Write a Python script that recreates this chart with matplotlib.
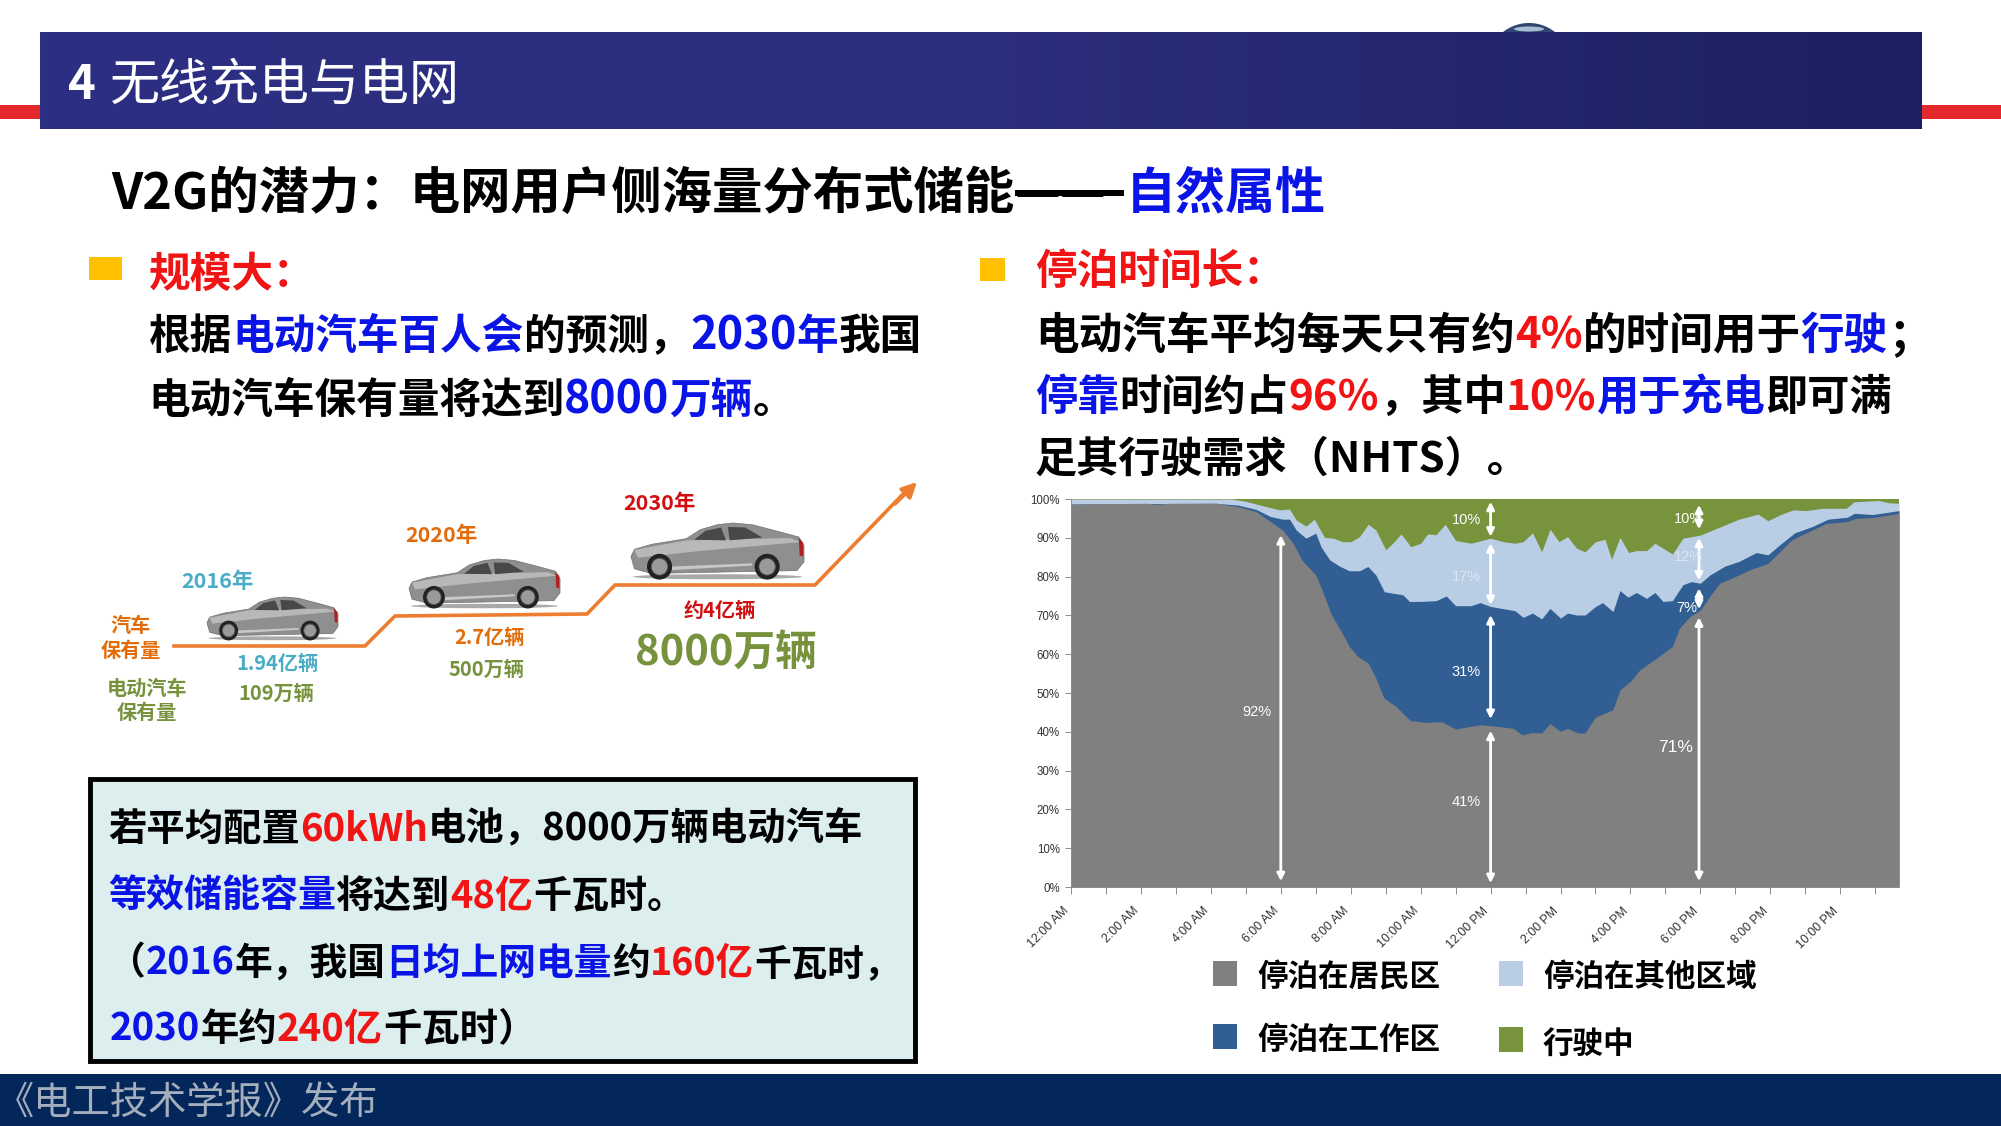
import numpy as np
import matplotlib
matplotlib.use("Agg")
import matplotlib.pyplot as plt
from matplotlib.patches import Polygon, Rectangle, Ellipse, Circle
from matplotlib.transforms import ScaledTranslation

plt.rcParams['font.family'] = ['Noto Sans CJK SC', 'DejaVu Sans']

W, H = 2001, 1126

# top edge of each stacked band (hours, percent)
res_h = [0, 2.2, 2.4, 2.8, 4.15, 4.8, 5.3, 5.7, 6.05, 6.35, 6.6, 7.0, 7.2, 7.45, 7.7, 7.96, 8.2, 8.5, 8.7, 8.95,
         9.3, 9.7, 10.15, 10.6, 11, 11.3, 11.7, 12, 12.65, 12.9, 13.17, 13.46, 13.7, 14, 14.2, 14.5, 14.7, 15,
         15.5, 15.7, 16, 16.27, 16.75, 17.2, 17.4, 17.7, 18, 18.3, 18.55, 18.9, 19.4, 19.93, 20.27, 20.6, 21.1,
         21.6, 22.2, 22.45, 22.9, 23.68]
res_v = [98.7, 98.9, 98.6, 98.9, 98.9, 98.0, 96.7, 94.2, 92, 88.6, 84.3, 80.4, 76.1, 70.1, 66.3, 62, 59.4, 57.7,
         54.2, 48.7, 46.5, 42.9, 42.4, 42.6, 40.7, 41.2, 41.8, 41.6, 40.9, 39.2, 39.8, 39.7, 42.1, 40.1, 40.9,
         39.7, 39.7, 43.8, 45.7, 50.8, 53, 56, 59, 62, 66.7, 69.7, 71.4, 75.3, 78.3, 79.6, 81.7, 83.4, 86.4,
         89.4, 91.6, 93.7, 94.2, 95.0, 95.2, 96.3]

work_h = [0, 4.15, 4.8, 5.3, 5.7, 6.05, 6.25, 6.44, 6.72, 7, 7.15, 7.4, 7.68, 7.96, 8.25, 8.49, 8.72, 8.96, 9.49,
          9.68, 10, 10.44, 10.73, 11, 11.44, 11.7, 12, 12.7, 12.93, 13.2, 13.46, 13.7, 14, 14.2, 14.46, 14.7, 15,
          15.2, 15.5, 15.7, 15.93, 16.17, 16.46, 16.7, 16.93, 17.2, 17.5, 17.74, 18, 18.27, 18.7, 19.1, 19.6,
          19.93, 20.27, 20.7, 21.2, 21.65, 22.2, 22.4, 22.93, 23.68]
work_v = [98.7, 98.9, 98.4, 97.3, 95.5, 94.8, 94.8, 92, 89.9, 91.2, 87.7, 84.3, 82.7, 81.5, 81.5, 82.6, 80.4, 76.1,
          75.3, 73.6, 73.6, 73.8, 75, 72.5, 72.5, 73.3, 72.3, 71.2, 69.5, 70.6, 69.1, 71.8, 69.3, 70.6, 70.1,
          70.1, 72.3, 73.3, 71, 76.4, 74.7, 75.9, 74.4, 75.9, 73.6, 73.8, 77.9, 78.7, 78.3, 80.4, 82.7, 83.9,
          86.2, 85.6, 88.2, 91.3, 92.9, 94.8, 95.3, 96.3, 96.0, 97]

other_h = [0, 4.6, 5.0, 5.6, 5.96, 6.25, 6.44, 6.72, 6.96, 7.25, 7.5, 7.77, 8, 8.25, 8.5, 8.72, 9, 9.2, 9.44, 9.72,
           10, 10.2, 10.44, 10.7, 11, 11.44, 11.7, 12, 12.36, 12.7, 12.93, 13.2, 13.46, 13.7, 13.96, 14.2, 14.46,
           14.7, 15, 15.27, 15.46, 15.7, 15.95, 16.17, 16.46, 16.7, 17.2, 17.5, 18, 18.7, 19.1, 19.65, 19.93,
           20.27, 20.65, 21, 21.5, 22.17, 22.4, 23.1, 23.4, 23.68]
other_v = [100, 100, 99.4, 98, 97.2, 97.4, 94.6, 93, 94.8, 90.1, 89.9, 89, 89, 90.3, 93.5, 92, 86.9, 88.6, 91, 87.7,
           88.6, 91, 90.8, 93.5, 89.3, 88.6, 89.2, 89.9, 89, 88.6, 89, 91.3, 86.4, 92.2, 89, 90.3, 87.3, 86.4, 89,
           89.6, 84.5, 90.1, 86.2, 86.7, 86.7, 88.6, 85.8, 89.9, 90.7, 93.3, 94.8, 96.1, 94.4, 95.9, 97.2, 97,
           97.6, 97.6, 99.3, 99.6, 99, 98.9]

hour_labels = ['12:00 AM', '2:00 AM', '4:00 AM', '6:00 AM', '8:00 AM', '10:00 AM', '12:00 PM',
               '2:00 PM', '4:00 PM', '6:00 PM', '8:00 PM', '10:00 PM']
pct_labels = ['0%', '10%', '20%', '30%', '40%', '50%', '60%', '70%', '80%', '90%', '100%']

# (hour, low, high) for the white double arrows
arrow_spans = [(6, 1.5, 90.7), (12, 1, 40.3), (12, 43.3, 70.1), (12, 72.7, 88.6), (12, 90.3, 99.3),
               (17.96, 1.5, 69.5), (17.96, 71.6, 77), (17.96, 79, 90), (17.96, 92.2, 98.5)]
# (hour, value, text)
pct_notes = [(5.31, 45.2, '92%'), (11.3, 94.6, '10%'), (11.3, 80, '17%'), (11.3, 55.5, '31%'), (11.3, 21.8, '41%'),
             (17.65, 94.8, '10%'), (17.65, 85, '12%'), (17.6, 72, '7%')]

legend_names = ['停泊在居民区', '停泊在工作区', '停泊在其他区域', '行驶中']

C_RES, C_WORK, C_OTHER, C_DRIVE = '#808080', '#325F93', '#B9CDE5', '#77933C'
RED, BLUE, BLK = '#F01414', '#0A14E6', '#000000'
TEAL, ORANGE, OLIVE = '#4BACC6', '#E36C09', '#76923C'

fig = plt.figure(figsize=(W / 100, H / 100), dpi=100, facecolor='white')

# page layer in pixel coordinates
bg = fig.add_axes([0, 0, 1, 1])
bg.axis('off')
renderer = fig.canvas.get_renderer()


def rich(x, cy, parts, size, weight='bold'):
    """Write coloured runs one after the other, cy is the middle of the line.
    A run may carry its own font size as a third item (latin runs are wider in the slide)."""
    base = cy + size * 100 / 72 * 0.36
    for part in parts:
        txt, col = part[0], part[1]
        sz = part[2] if len(part) > 2 else size
        t = bg.text(x, base, txt, color=col, fontsize=sz, fontweight=weight, va='baseline', ha='left', zorder=3)
        x = bg.transData.inverted().transform(t.get_window_extent(renderer))[1][0]
    return x


def label(x, cy, txt, col, size):
    bg.text(x, cy, txt, color=col, fontsize=size, fontweight='bold', ha='center', va='center')


def car(x0, y0, x1, y1):
    # rough side view of the sedan, nose to the left
    w, h = x1 - x0, y1 - y0
    def P(pts):
        return [(x0 + a * w, y0 + b * h) for a, b in pts]
    bg.add_patch(Ellipse((x0 + 0.5 * w, y1 - 0.04 * h), w * 0.98, h * 0.09, color='#555555', alpha=0.5, lw=0))
    body = [(0.0, 0.60), (0.02, 0.47), (0.12, 0.38), (0.32, 0.28), (0.40, 0.12), (0.50, 0.03), (0.59, 0.0),
            (0.70, 0.03), (0.85, 0.15), (0.97, 0.25), (1.0, 0.40), (1.0, 0.69), (0.96, 0.85), (0.12, 0.90), (0.02, 0.82)]
    bg.add_patch(Polygon(P(body), closed=True, fc='#8F8F8F', ec='#707070', lw=0.5))
    bg.add_patch(Polygon(P([(0.02, 0.48), (0.32, 0.31), (0.92, 0.27), (0.98, 0.34), (0.40, 0.50), (0.04, 0.62)]),
                         closed=True, fc='#B8B8B8', lw=0))
    bg.add_patch(Polygon(P([(0.22, 0.78), (0.70, 0.72), (0.70, 0.76), (0.24, 0.84)]), closed=True, fc='#C8C8C8', lw=0))
    bg.add_patch(Polygon(P([(0.365, 0.30), (0.43, 0.14), (0.52, 0.08), (0.55, 0.31)]), closed=True, fc='#484848', lw=0))
    bg.add_patch(Polygon(P([(0.57, 0.31), (0.56, 0.07), (0.66, 0.08), (0.76, 0.26)]), closed=True, fc='#484848', lw=0))
    bg.add_patch(Polygon(P([(0.97, 0.27), (0.995, 0.35), (0.995, 0.60), (0.975, 0.58)]), closed=True, fc='#B02020', lw=0))
    for cx in (0.165, 0.787):
        bg.add_patch(Ellipse((x0 + cx * w, y0 + 0.78 * h), 0.145 * w, 0.46 * h, fc='#222222', lw=0))
        bg.add_patch(Ellipse((x0 + cx * w, y0 + 0.78 * h), 0.095 * w, 0.30 * h, fc='#9A9A9A', ec='#555555', lw=0.6))


# header band, red strips, footer
bg.add_patch(Rectangle((0, 105), W, 14, fc='#E5282D', lw=0))
bg.add_patch(Circle((1529, 65), 42, fc='#2F4672', lw=0))
bg.add_patch(Ellipse((1529, 29), 30, 5, fc='#A9BCD6', lw=0))
grad = np.linspace(0, 1, 256).reshape(1, -1)
cmap = matplotlib.colors.LinearSegmentedColormap.from_list('band', ['#2D3082', '#2C2E7E', '#1C2060'])
bg.imshow(grad, extent=(40, 1922, 129, 32), aspect='auto', cmap=cmap, zorder=2)
bg.add_patch(Rectangle((0, 1074), W, H - 1074, fc='#03275A', lw=0))
bg.set_xlim(0, W)
bg.set_ylim(H, 0)

t_head = rich(68, 82, [('4 ', 'white')], 34)
bg.text(t_head + 2, 100, '无线充电与电网', color='white', fontsize=36, va='baseline', zorder=3)
bg.text(-4, 1103, '《电工技术学报》发布', color='#A4AEBC', fontsize=27.5, va='center', ha='left')

# headline and bullet columns
rich(111, 191, [('V2G的潜力：电网用户侧海量分布式储能', BLK), ('——', BLK)], 36.3)
bg.add_patch(Rectangle((1015, 190), 109, 6, fc='black', lw=0, zorder=3))
rich(1126, 191, [('自然属性', BLUE)], 36)

bg.add_patch(Rectangle((89, 257), 33, 23, fc='#FFC000', lw=0))
rich(149, 272, [('规模大：', RED)], 30)
rich(149, 334, [('根据', BLK), ('电动汽车百人会', BLUE), ('的预测，', BLK), ('2030', BLUE, 32.5), ('年', BLUE), ('我国', BLK)], 30)
rich(148, 398, [('电动汽车保有量将达到', BLK), ('8000', BLUE, 32), ('万辆', BLUE), ('。', BLK)], 30)

bg.add_patch(Rectangle((980, 258), 25, 23, fc='#FFC000', lw=0))
rich(1035, 269, [('停泊时间长：', RED)], 30)
rich(1035, 333, [('电动汽车平均每天只有约', BLK), ('4%', RED), ('的时间用于', BLK), ('行驶', BLUE), ('；', BLK)], 31.4)
rich(1035, 395, [('停靠', BLUE), ('时间约占', BLK), ('96%', RED), ('，其中', BLK), ('10%', RED), ('用于充电', BLUE),
                 ('即可满', BLK)], 30.4)
rich(1035, 457, [('足其行驶需求（NHTS）。', BLK)], 30.3)

# growth staircase
stair_x = [174, 365, 395, 587, 615, 815, 905]
stair_y = [646, 646, 616, 614, 585, 585, 492]
bg.plot(stair_x, stair_y, color='#ED7D31', lw=2.6, solid_joinstyle='miter')
bg.annotate('', xy=(917, 482), xytext=(895, 504),
            arrowprops=dict(arrowstyle='-|>', color='#ED7D31', lw=2.6, mutation_scale=22, shrinkA=0, shrinkB=0))
bg.set_xlim(0, W)
bg.set_ylim(H, 0)
car(207, 597, 338, 640)
car(409, 559, 560, 608)
car(631, 523, 804, 579)
label(217, 582, '2016年', TEAL, 15.5)
label(441, 535, '2020年', ORANGE, 15.5)
label(659, 503, '2030年', '#D01010', 15.5)
label(131, 626, '汽车', ORANGE, 14.5)
label(131, 650, '保有量', ORANGE, 14.5)
label(147, 688, '电动汽车', OLIVE, 14.5)
label(147, 712, '保有量', OLIVE, 14.5)
label(277, 664, '1.94亿辆', TEAL, 14.5)
label(276, 693, '109万辆', OLIVE, 14.5)
label(489, 638, '2.7亿辆', ORANGE, 14.5)
label(486, 669, '500万辆', OLIVE, 14.5)
label(720, 610, '约4亿辆', '#D01010', 14.5)
label(726, 653, '8000万辆', OLIVE, 30)

# note box
bg.add_patch(Rectangle((90, 779), 825, 282, fc='#DCEEEE', ec='black', lw=3.5))
rich(108, 827, [('若平均配置', BLK), ('60kWh', RED), ('电池，8000万辆电动汽车', BLK)], 27.6)
rich(108, 894, [('等效储能容量', BLUE), ('将达到', BLK), ('48亿', RED), ('千瓦时。', BLK)], 27.4)
rich(108, 961, [('（', BLK), ('2016', BLUE), ('年，我国', BLK), ('日均上网电量', BLUE), ('约', BLK), ('160亿', RED, 27),
                ('千瓦时，', BLK, 26.4)], 27.2)
rich(110, 1027, [('2030', BLUE), ('年约', BLK), ('240亿', RED), ('千瓦时）', BLK)], 27.6)

# legend
for (x, y), name, col, dy in zip([(1213, 961), (1213, 1024), (1499, 961), (1499, 1027)], legend_names,
                                 [C_RES, C_WORK, C_OTHER, C_DRIVE], [3, 3, 3, 4]):
    bg.add_patch(Rectangle((x, y), 24, 25, fc=col, lw=0))
    bg.text(x + 44, y + 13 + dy, name, color='black', fontsize=22, fontweight='bold', va='center', ha='left')

# stacked area chart
ax = fig.add_axes([1071 / W, 1 - 887 / H, 828 / W, 388 / H])
ax.set_xlim(0, 23.68)
ax.set_ylim(0, 100)
ax.set_facecolor(C_DRIVE)
ax.fill_between(other_h, 0, other_v, color=C_OTHER, lw=0)
ax.fill_between(work_h, 0, work_v, color=C_WORK, lw=0)
ax.fill_between(res_h, 0, res_v, color=C_RES, lw=0)

for s in ('top', 'right'):
    ax.spines[s].set_visible(False)
for s in ('left', 'bottom'):
    ax.spines[s].set_color('#8C8C8C')
    ax.spines[s].set_linewidth(0.7)
ax.set_yticks(np.arange(0, 101, 10))
ax.set_yticklabels(pct_labels, family=['Liberation Sans'], fontsize=8.3, color='#333333')
ax.set_xticks(np.arange(0, 24, 2))
ax.set_xticks(np.arange(1, 24, 2), minor=True)
ax.set_xticklabels(hour_labels, family=['Liberation Sans'], fontsize=8.9, color='#333333', rotation=45,
                   ha='right', va='center', rotation_mode='anchor')
ax.tick_params(axis='x', which='both', length=5, color='#8C8C8C', width=0.7, pad=11)
ax.tick_params(axis='y', length=4, color='#8C8C8C', width=0.7, pad=4)
# labels end a little left of their tick in the slide
shift = ScaledTranslation(-4 / 100, 0, fig.dpi_scale_trans)
for lab in ax.get_xticklabels():
    lab.set_transform(lab.get_transform() + shift)

for hour, lo, hi in arrow_spans:
    ax.annotate('', xy=(hour, hi), xytext=(hour, lo),
                arrowprops=dict(arrowstyle='<|-|>', color='white', lw=2, mutation_scale=11, shrinkA=0, shrinkB=0))
for hour, val, txt in pct_notes:
    col = '#DCE6F2' if txt in ('17%', '12%') else 'white'
    ax.text(hour, val, txt, color=col, fontsize=10.5, family=['Liberation Sans'], ha='center', va='center')
ax.text(17.3, 36, '71%', color='white', fontsize=12.5, family=['Liberation Sans'], ha='center', va='center')

fig.savefig('out.png', dpi=100)
